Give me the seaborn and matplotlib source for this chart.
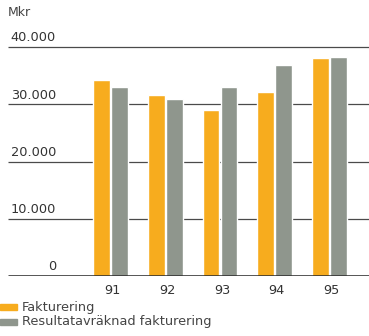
import matplotlib
matplotlib.use("Agg")
import matplotlib.pyplot as plt
import matplotlib.transforms as mtransforms
import seaborn as sns
import pandas as pd

# Invoicing per year, MSEK
years = ["91", "92", "93", "94", "95"]
fakturering = [34200, 31600, 29000, 32200, 38100]
resultatavraknad = [33100, 30900, 33100, 36900, 38300]
series_names = ["Fakturering", "Resultatavräknad fakturering"]
ytick_values = [0, 10000, 20000, 30000, 40000]
ytick_labels = ["0", "10.000", "20.000", "30.000", "40.000"]
unit_label = "Mkr"

colors = ["#F7AC1E", "#8F968D"]

df = pd.DataFrame({
    "year": years * 2,
    "value": fakturering + resultatavraknad,
    "series": [series_names[0]] * len(years) + [series_names[1]] * len(years),
})

sns.set_style("white")
plt.rcParams["font.family"] = ["DejaVu Sans"]

W, H = 369, 336
fig = plt.figure(figsize=(W / 100, H / 100), dpi=100)
# axes: full width, value 0 at y=276 px from the top, top edge at y=40 px
ax = fig.add_axes([0, (H - 276) / H, 1, (276 - 40) / H])

sns.barplot(data=df, x="year", y="value", hue="series", palette=colors,
            width=0.66, gap=0.08, ax=ax, legend=False, saturation=1, zorder=3)

px = 54.75
ax.set_xlim(-110.5 / px, (W - 110.5) / px)
ax.set_ylim(0, (276 - 40) / 5.725 * 1000)

for s in ax.spines.values():
    s.set_visible(False)
ax.set_xticks([])
ax.set_yticks([])
ax.set_xlabel("")
ax.set_ylabel("")

trans = mtransforms.blended_transform_factory(ax.transAxes, ax.transData)
x0 = 8 / W
for v, lab in zip(ytick_values, ytick_labels):
    lw = 1.8 if v == 0 else 0.9
    col = "#222222" if v == 0 else "#4a4a4a"
    ax.plot([x0, 1], [v, v], transform=trans, color=col, lw=lw,
            zorder=2 if v else 4, solid_capstyle="butt")
    ax.text(56 / W, v + 450, lab, transform=trans, ha="right", va="bottom",
            fontsize=9.3, color="#333333")

ax.text(8 / W, 1 - 13 / H, unit_label, transform=fig.transFigure, ha="left",
        va="center", fontsize=9, color="#444444")

# year labels under each group
for i, y in enumerate(years):
    fig.text((110.5 + px * i + 2) / W, 1 - 290 / H, y, ha="center",
             va="center", fontsize=9.3, color="#333333")

# legend swatches
for j, (name, c) in enumerate(zip(series_names, colors)):
    yc = 307 + 15 * j
    fig.patches.append(plt.Rectangle((0, 1 - (yc + 3) / H), 17 / W, 6 / H,
                                     transform=fig.transFigure, color=c))
    fig.text(22 / W, 1 - yc / H, name, ha="left", va="center",
             fontsize=9.3, color="#444444")

fig.savefig("out.png", dpi=100, facecolor="white")
